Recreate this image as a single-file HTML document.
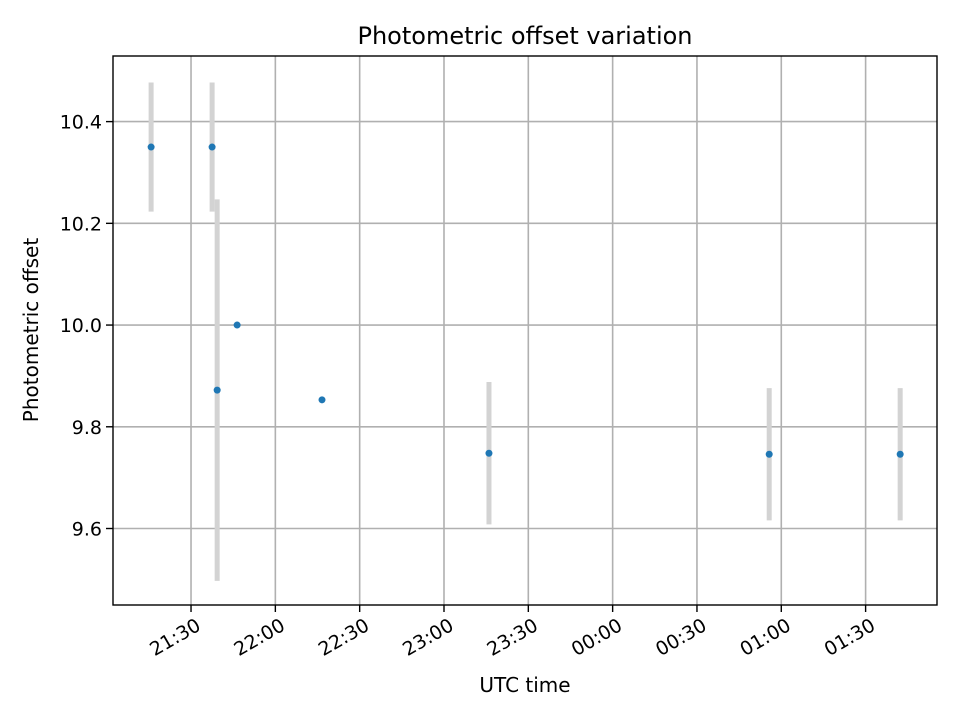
<!DOCTYPE html>
<html><head><meta charset="utf-8"><style>
body{margin:0;background:#fff;font-family:"DejaVu Sans","Liberation Sans",sans-serif}
svg text{font-family:"DejaVu Sans","Liberation Sans",sans-serif}
</style></head><body>
<svg id="chart" width="960" height="720" xmlns="http://www.w3.org/2000/svg">
<rect width="960" height="720" fill="#fff"/>
<g id="grid"></g>
<g id="errs"></g>
<g id="pts"></g>
<rect x="113" y="56" width="824" height="549" fill="none" stroke="#000" stroke-width="1.4"/>
<g id="ticks"></g>
<text x="525" y="44" text-anchor="middle" font-size="24">Photometric offset variation</text>
<text x="525" y="692" text-anchor="middle" font-size="20">UTC time</text>
<text transform="translate(38,330) rotate(-90)" text-anchor="middle" font-size="20">Photometric offset</text>
</svg>
<script>
// minutes after 21:00 UTC
const times=[15.8,37.5,39.3,46.4,76.6,136,235.7,282.3];
const values=[10.35,10.35,9.872,10.0,9.853,9.748,9.746,9.746];
const errors=[0.127,0.127,0.375,0,0,0.14,0.13,0.13];
const xTickMinutes=[30,60,90,120,150,180,210,240,270];
const xTickLabels=["21:30","22:00","22:30","23:00","23:30","00:00","00:30","01:00","01:30"];
const yTicks=[9.6,9.8,10.0,10.2,10.4];
const yTickLabels=["9.6","9.8","10.0","10.2","10.4"];
const L=113,R=937,T=56,B=605,x0=2.24,x1=295.4,y0=9.4496,y1=10.529;
const X=m=>L+(m-x0)/(x1-x0)*(R-L);
const Y=v=>B-(v-y0)/(y1-y0)*(B-T);
const NS="http://www.w3.org/2000/svg";
function mk(tag,parent,attrs){const e=document.createElementNS(NS,tag);for(const k in attrs)e.setAttribute(k,attrs[k]);document.getElementById(parent).appendChild(e);return e;}
xTickMinutes.forEach((m,i)=>{
  const x=X(m);
  let g=mk('line','grid',{x1:x,x2:x,y1:T,y2:B,stroke:'#b0b0b0','stroke-width':1.6});
  
  
  let t=mk('line','ticks',{x1:x,x2:x,y1:B,y2:B+7,stroke:'#000','stroke-width':1.4});
  
  
  let tx=mk('text','ticks',{x:x+4,y:B+26,'text-anchor':'end','font-size':19,transform:`rotate(-30 ${x+4} ${B+12})`});
  tx.textContent=xTickLabels[i];
  
  
});
yTicks.forEach((v,i)=>{
  const y=Y(v);
  let g=mk('line','grid',{x1:L,x2:R,y1:y,y2:y,stroke:'#b0b0b0','stroke-width':1.6});
  
  
  let t=mk('line','ticks',{x1:L-7,x2:L,y1:y,y2:y,stroke:'#000','stroke-width':1.4});
  
  
  let tx=mk('text','ticks',{x:L-11,y:y+7,'text-anchor':'end','font-size':19});
  tx.textContent=yTickLabels[i];
  
  
});
times.forEach((m,i)=>{
  const x=X(m);
  if(errors[i]>0){
    let e=mk('line','errs',{x1:x,x2:x,y1:Y(values[i]+errors[i]),y2:Y(values[i]-errors[i]),stroke:'#d3d3d3','stroke-width':5});
    
    
  }
  let p=mk('circle','pts',{cx:x,cy:Y(values[i]),r:3.5,fill:'#1f77b4'});
  
  
});
</script>
</body></html>
